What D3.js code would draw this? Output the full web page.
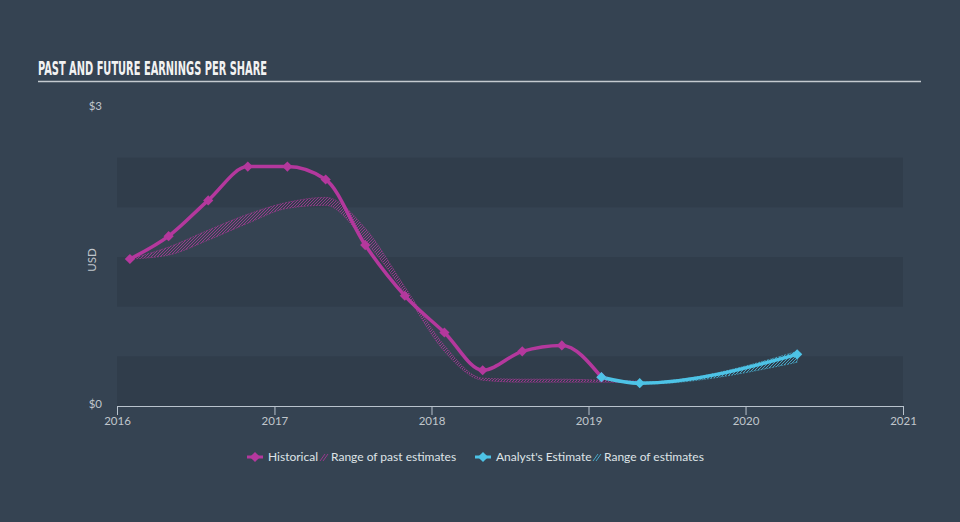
<!DOCTYPE html>
<html>
<head>
<meta charset="utf-8">
<script src="https://cdn.jsdelivr.net/npm/d3@7"></script>
<style>
  html, body { margin: 0; padding: 0; background: #354352; }
  svg { display: block; }
</style>
</head>
<body>
<svg id="chart" width="960" height="522"></svg>
<script>
// ---- data ----
const histDates = ["2016-01-31","2016-04-30","2016-07-31","2016-10-31","2017-01-31","2017-04-30","2017-07-31","2017-10-31","2018-01-31","2018-04-30","2018-07-31","2018-10-31","2019-01-31"];
const histEPS   = [1.48, 1.71, 2.07, 2.41, 2.41, 2.28, 1.62, 1.11, 0.74, 0.36, 0.55, 0.61, 0.29];

const pastRangeDates = ["2016-01-31","2016-04-30","2016-07-31","2016-10-31","2017-01-31","2017-04-30","2017-07-31","2017-10-31","2018-01-31","2018-04-30","2018-07-31","2018-10-31","2019-01-31","2019-04-30"];
const pastRangeLow   = [1.48, 1.52, 1.67, 1.84, 1.99, 2.02, 1.66, 1.14, 0.55, 0.26, 0.24, 0.24, 0.24, 0.23];
const pastRangeHigh  = [1.48, 1.60, 1.77, 1.93, 2.05, 2.10, 1.79, 1.20, 0.61, 0.28, 0.27, 0.27, 0.26, 0.25];

const estDates = ["2019-01-31","2019-04-30","2020-04-30"];
const estEPS   = [0.29, 0.23, 0.52];
const estLow   = [0.29, 0.22, 0.44];
const estHigh  = [0.29, 0.24, 0.55];

const xTickYears = [2016, 2017, 2018, 2019, 2020, 2021];
const yTickValues = [0, 3];
const bandStarts = [0, 1, 2];   // darker 0.5-wide bands

const title = "PAST AND FUTURE EARNINGS PER SHARE";
const legendItems = ["Historical", "Range of past estimates", "Analyst's Estimate", "Range of estimates"];

// ---- setup ----
const purple = "#b4389d", cyan = "#4dc3e6";
const svg = d3.select("#chart");
const parse = d3.timeParse("%Y-%m-%d");

const x = d3.scaleTime().domain([new Date(2016,0,1), new Date(2021,0,1)]).range([117, 903]);
const y = d3.scaleLinear().domain([0, 3]).range([406, 108]);

// defs: hatch patterns
const defs = svg.append("defs");
function hatch(id, color) {
  const p = defs.append("pattern").attr("id", id).attr("patternUnits", "userSpaceOnUse")
    .attr("width", 3).attr("height", 3);
  p.append("path").attr("d", "M-1,1 L1,-1 M0,3 L3,0 M2,4 L4,2")
    .attr("stroke", color).attr("stroke-width", 0.9).attr("opacity", 0.85);
}
hatch("hatchP", purple);
hatch("hatchC", cyan);

// title
svg.append("text").attr("x", 38).attr("y", 75).text(title)
  .attr("font-family", "'Liberation Sans Narrow','DejaVu Sans Condensed',sans-serif")
  .attr("font-weight", "bold").attr("font-size", 19).attr("fill", "#f2f2f2")
  .attr("textLength", 229).attr("lengthAdjust", "spacingAndGlyphs");
svg.append("line").attr("x1", 38).attr("x2", 921).attr("y1", 81.5).attr("y2", 81.5)
  .attr("stroke", "#c4cad0").attr("stroke-width", 1.3);

// bands
svg.selectAll("rect.band").data(bandStarts).join("rect").attr("class", "band")
  .attr("x", x(new Date(2016,0,1))).attr("width", x(new Date(2021,0,1)) - x(new Date(2016,0,1)))
  .attr("y", d => y(d + 0.5)).attr("height", d => y(d) - y(d + 0.5))
  .attr("fill", "#303d4b");

// y labels
svg.selectAll("text.ytick").data(yTickValues).join("text").attr("class", "ytick")
  .attr("x", 102).attr("y", d => y(d) + 2).attr("text-anchor", "end")
  .attr("font-family", "Lato, sans-serif").attr("font-size", 11.5).attr("fill", "#c0c6cc")
  .text(d => "$" + d);
svg.append("text").attr("transform", "translate(96," + y(1.47) + ") rotate(-90)")
  .attr("text-anchor", "middle").attr("font-family", "Lato, sans-serif").attr("font-size", 11.5)
  .attr("fill", "#c0c6cc").text("USD");

// x axis
const xAxis = d3.axisBottom(x).tickValues(xTickYears.map(yr => new Date(yr,0,1)))
  .tickFormat(d3.timeFormat("%Y")).tickSize(9).tickPadding(2);
const gx = svg.append("g").attr("transform", "translate(0,406)").call(xAxis);
gx.select(".domain").attr("stroke", "#b9c3cd");
gx.selectAll(".tick line").attr("stroke", "#b9c3cd");
gx.selectAll(".tick text").attr("fill", "#c0c6cc").attr("font-family", "Lato, sans-serif").attr("font-size", 11.5);

// ranges
const pastRange = pastRangeDates.map((d, i) => ({d: parse(d), lo: pastRangeLow[i], hi: pastRangeHigh[i]}));
const futRange = estDates.map((d, i) => ({d: parse(d), lo: estLow[i], hi: estHigh[i]}));
const area = d3.area().x(d => x(d.d)).y0(d => y(d.lo)).y1(d => y(d.hi)).curve(d3.curveMonotoneX);
svg.append("path").datum(pastRange).attr("d", area).attr("fill", "url(#hatchP)")
  .attr("stroke", purple).attr("stroke-width", 0.8).attr("stroke-opacity", 0.7).attr("stroke-dasharray", "2,1");
svg.append("path").datum(futRange).attr("d", area).attr("fill", "url(#hatchC)")
  .attr("stroke", cyan).attr("stroke-width", 0.8).attr("stroke-opacity", 0.7).attr("stroke-dasharray", "2,1");

// lines
const hist = histDates.map((d, i) => ({d: parse(d), v: histEPS[i]}));
const est = estDates.map((d, i) => ({d: parse(d), v: estEPS[i]}));
const line = d3.line().x(d => x(d.d)).y(d => y(d.v)).curve(d3.curveMonotoneX);
svg.append("path").datum(hist).attr("d", line).attr("fill", "none").attr("stroke", purple).attr("stroke-width", 3.5);
svg.append("path").datum(est).attr("d", line).attr("fill", "none").attr("stroke", cyan).attr("stroke-width", 3.5);

const diamond = d3.symbol().type(d3.symbolSquare).size(52);
svg.selectAll("path.hm").data(hist).join("path").attr("class", "hm")
  .attr("d", diamond).attr("transform", d => `translate(${x(d.d)},${y(d.v)}) rotate(45)`).attr("fill", purple);
svg.selectAll("path.em").data(est).join("path").attr("class", "em")
  .attr("d", diamond).attr("transform", d => `translate(${x(d.d)},${y(d.v)}) rotate(45)`).attr("fill", cyan);

// legend
const lg = svg.append("g").attr("font-family", "Lato, sans-serif").attr("font-size", 12).attr("fill", "#dfe3e7");
function legMarker(cx, color) {
  lg.append("line").attr("x1", cx - 8).attr("x2", cx + 8).attr("y1", 457).attr("y2", 457)
    .attr("stroke", color).attr("stroke-width", 3);
  lg.append("path").attr("d", diamond).attr("transform", `translate(${cx},457) rotate(45)`).attr("fill", color);
}
function legHatch(cx, color) {
  lg.append("path").attr("d", `M${cx-4},461 L${cx+1},454 M${cx-1},461 L${cx+4},454`)
    .attr("stroke", color).attr("stroke-width", 1).attr("opacity", 0.8);
}
legMarker(255, purple);
lg.append("text").attr("x", 268).attr("y", 461).text(legendItems[0]);
legHatch(324, purple);
lg.append("text").attr("x", 331).attr("y", 461).text(legendItems[1]);
legMarker(483, cyan);
lg.append("text").attr("x", 496).attr("y", 461).text(legendItems[2]);
legHatch(597, cyan);
lg.append("text").attr("x", 604).attr("y", 461).text(legendItems[3]);
</script>
</body>
</html>
